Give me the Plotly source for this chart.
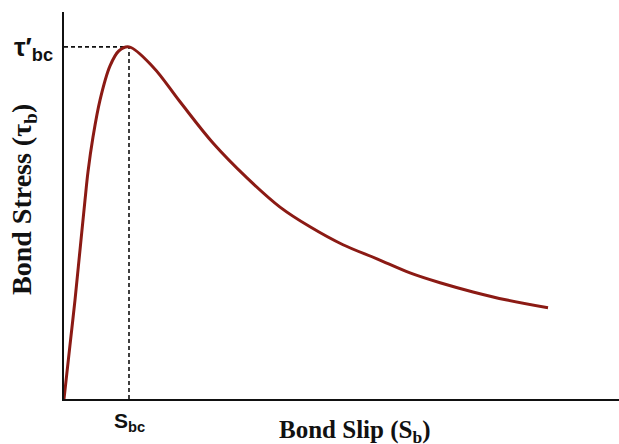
import plotly.graph_objects as go

# Bond slip (normalized by S_bc) and bond stress (normalized by tau'_bc)
slip = [0.0, 0.092, 0.169, 0.246, 0.323, 0.369, 0.446, 0.554, 0.708, 0.846, 1.0,
        1.369, 1.785, 2.292, 2.815, 3.323, 3.785, 4.292, 4.815, 5.323, 5.785,
        6.292, 6.815, 7.446]
stress = [0.0, 0.153, 0.281, 0.423, 0.565, 0.645, 0.744, 0.849, 0.946, 0.989, 1.0,
          0.943, 0.844, 0.727, 0.628, 0.545, 0.489, 0.438, 0.398, 0.358, 0.330,
          0.304, 0.281, 0.259]

peak_slip = 1.0
peak_stress = 1.0
peak_slip_label = "S<sub>bc</sub>"
peak_stress_label = "τ′<sub>bc</sub>"
x_title = "Bond Slip (S<sub>b</sub>)"
y_title = "Bond Stress (τ<sub>b</sub>)"

x_max = 8.538
y_max = 1.099

fig = go.Figure()
fig.add_trace(go.Scatter(x=slip, y=stress, mode="lines",
                         line=dict(color="#8B1A14", width=3, shape="spline", smoothing=1.0),
                         hoverinfo="skip", showlegend=False))

# dashed guide lines to the peak
fig.add_shape(type="line", x0=0, y0=peak_stress, x1=peak_slip, y1=peak_stress,
              line=dict(color="#111", width=1.6, dash="4px,3px"), layer="below")
fig.add_shape(type="line", x0=peak_slip, y0=0, x1=peak_slip, y1=peak_stress,
              line=dict(color="#111", width=1.6, dash="4px,3px"), layer="below")

fig.add_annotation(x=peak_slip, y=0, xref="x", yref="y", yshift=-23,
                   xanchor="center", yanchor="middle",
                   text="<b>" + peak_slip_label + "</b>", showarrow=False,
                   font=dict(family="Liberation Sans, Arial", size=21, color="#111"))
fig.add_annotation(x=0, y=peak_stress, xref="x", yref="y", xshift=-31, yshift=-2,
                   xanchor="center", yanchor="middle",
                   text="<b>" + peak_stress_label + "</b>", showarrow=False,
                   font=dict(family="Liberation Sans, Arial", size=26, color="#111"))
fig.add_annotation(x=354, y=431, xref="paper", yref="paper", showarrow=False,
                   xanchor="center", yanchor="middle",
                   text="<b>" + x_title + "</b>",
                   font=dict(family="Liberation Serif, Times New Roman", size=25, color="#111"))
fig.add_annotation(x=23, y=200, xref="paper", yref="paper", showarrow=False, textangle=-90,
                   xanchor="center", yanchor="middle",
                   text="<b>" + y_title + "</b>",
                   font=dict(family="Liberation Serif, Times New Roman", size=28, color="#111"))

# convert the pixel-placed annotations above into paper coordinates
W, H = 619, 444
ml, mr, mt, mb = 64, 0, 12, 45
pw, ph = W - ml - mr, H - mt - mb
for a in fig.layout.annotations[2:]:
    a.x = (a.x - ml) / pw
    a.y = (H - mb - a.y) / ph

fig.update_layout(
    width=W, height=H,
    margin=dict(l=ml, r=mr, t=mt, b=mb),
    plot_bgcolor="white", paper_bgcolor="white",
    xaxis=dict(range=[0, x_max], showline=True, linecolor="#111", linewidth=2,
               showgrid=False, zeroline=False, showticklabels=False, ticks=""),
    yaxis=dict(range=[0, y_max], showline=True, linecolor="#111", linewidth=2,
               showgrid=False, zeroline=False, showticklabels=False, ticks=""),
)
fig.write_html("out.html")
